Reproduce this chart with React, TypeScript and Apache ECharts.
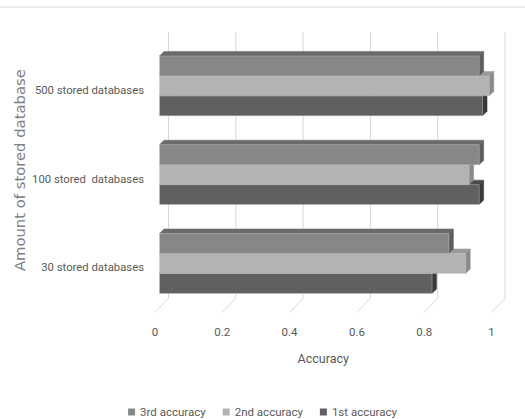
import React, { useEffect, useRef } from "react";
import * as echarts from "echarts";

const categories = ["30 stored databases", "100 stored  databases", "500 stored databases"];
const firstAccuracy = [0.81, 0.95, 0.96];
const secondAccuracy = [0.91, 0.92, 0.98];
const thirdAccuracy = [0.86, 0.95, 0.95];
const xTicks = [0, 0.2, 0.4, 0.6, 0.8, 1];
const seriesNames = ["3rd accuracy", "2nd accuracy", "1st accuracy"];

const LABEL_FONT = "Roboto, sans-serif";

// 3D styling constants
const FRONT_OFF = 4.5; // bar front face offset from axis plane
const BAR_DEPTH = 4.5;
const BACK_DX = 13.5;
const BACK_DY = 14;
const BAR_FRAC = 0.225;

function makeBarSeries(name: string, values: number[], slot: number, front: string, top: string, side: string) {
  return {
    type: "custom",
    name,
    itemStyle: { color: front },
    z: 3,
    data: values.map((v, i) => [v, i]),
    encode: { x: 0, y: 1 },
    renderItem: (params: any, api: any) => {
      const val = api.value(0);
      const cat = api.value(1);
      const p0 = api.coord([0, cat]);
      const p1 = api.coord([val, cat]);
      const band = api.size([0, 1])[1];
      const h = band * BAR_FRAC;
      const xl = p0[0] + FRONT_OFF;
      const xr = p1[0] + FRONT_OFF;
      const cy = p0[1] - FRONT_OFF + slot * h;
      const yt = cy - h / 2;
      const yb = cy + h / 2;
      const d = BAR_DEPTH;
      return {
        type: "group",
        children: [
          {
            type: "polygon",
            shape: { points: [[xl, yt], [xl + d, yt - d], [xr + d, yt - d], [xr, yt]] },
            style: { fill: top, stroke: top, lineWidth: 0.5 },
          },
          {
            type: "polygon",
            shape: { points: [[xr, yt], [xr + d, yt - d], [xr + d, yb - d], [xr, yb]] },
            style: { fill: side, stroke: side, lineWidth: 0.5 },
          },
          {
            type: "rect",
            shape: { x: xl, y: yt, width: xr - xl, height: yb - yt },
            style: { fill: front, stroke: "rgba(200,200,200,0.6)", lineWidth: 0.6 },
          },
        ],
      };
    },
  };
}

export default function App() {
  const ref = useRef<HTMLDivElement>(null);
  useEffect(() => {
    if (!ref.current) return;
    const chart = echarts.init(ref.current, undefined, { renderer: "svg" });
    const option: any = {
      animation: false,
      backgroundColor: "#ffffff",
      grid: {
        left: 155,
        top: 46,
        width: 336.5,
        height: 266.3,
        containLabel: false,
        outerBoundsMode: "none",
      },
      graphic: [
        {
          type: "line",
          shape: { x1: 0, y1: 7, x2: 525, y2: 7 },
          style: { stroke: "#d9d9d9", lineWidth: 1 },
        },
      ],
      xAxis: {
        type: "value",
        min: 0,
        max: 1,
        interval: 0.2,
        axisLine: { show: false },
        axisTick: { show: false },
        splitLine: { show: false },
        axisLabel: { color: "#595959", fontSize: 11.5, fontFamily: LABEL_FONT, margin: 14 },
        name: "Accuracy",
        nameLocation: "middle",
        nameGap: 40,
        nameMoveOverlap: false,
        nameTextStyle: { color: "#595959", fontSize: 12.5, fontFamily: LABEL_FONT },
      },
      yAxis: {
        type: "category",
        data: categories,
        axisLine: { show: false },
        axisTick: { show: false },
        splitLine: { show: false },
        axisLabel: { color: "#595959", fontSize: 11.3, fontFamily: LABEL_FONT, margin: 11 },
        name: "Amount of stored database",
        nameLocation: "middle",
        nameGap: 128,
        nameMoveOverlap: false,
        nameTextStyle: {
          color: "#808080",
          fontSize: 14.8,
          fontFamily: "'DejaVu Sans', Verdana, sans-serif",
          padding: [0, 0, 0, 18],
        },
      },
      legend: {
        data: seriesNames,
        top: 401,
        left: "center",
        icon: "rect",
        itemWidth: 7,
        itemHeight: 7,
        itemGap: 17,
        textStyle: { color: "#595959", fontSize: 11.5, fontFamily: LABEL_FONT },
      },
      series: [
        {
          type: "custom",
          name: "grid",
          silent: true,
          z: 1,
          data: xTicks.map((t) => [t, 0]),
          encode: { x: 0, y: 1 },
          renderItem: (params: any, api: any) => {
            const cs = params.coordSys;
            const p = api.coord([api.value(0), 0]);
            const x = p[0];
            const top = cs.y;
            const bottom = cs.y + cs.height;
            return {
              type: "polyline",
              shape: {
                points: [
                  [x + BACK_DX, top - BACK_DY],
                  [x + BACK_DX, bottom - BACK_DY],
                  [x, bottom],
                ],
              },
              style: { stroke: "#d9d9d9", lineWidth: 1, fill: null },
            };
          },
        },
        makeBarSeries(seriesNames[2], firstAccuracy, 1, "#5f605f", "#4a4a4a", "#3a3a3a"),
        makeBarSeries(seriesNames[1], secondAccuracy, 0, "#b3b3b3", "#9a9a9a", "#8a8a8a"),
        makeBarSeries(seriesNames[0], thirdAccuracy, -1, "#878787", "#6a6a6a", "#5e5e5e"),
      ],
    };
    chart.setOption(option);
    return () => chart.dispose();
  }, []);
  return (
    <div
      ref={ref}
      style={{ position: "fixed", left: 0, top: 0, width: 525, height: 419, background: "#fff" }}
    />
  );
}
